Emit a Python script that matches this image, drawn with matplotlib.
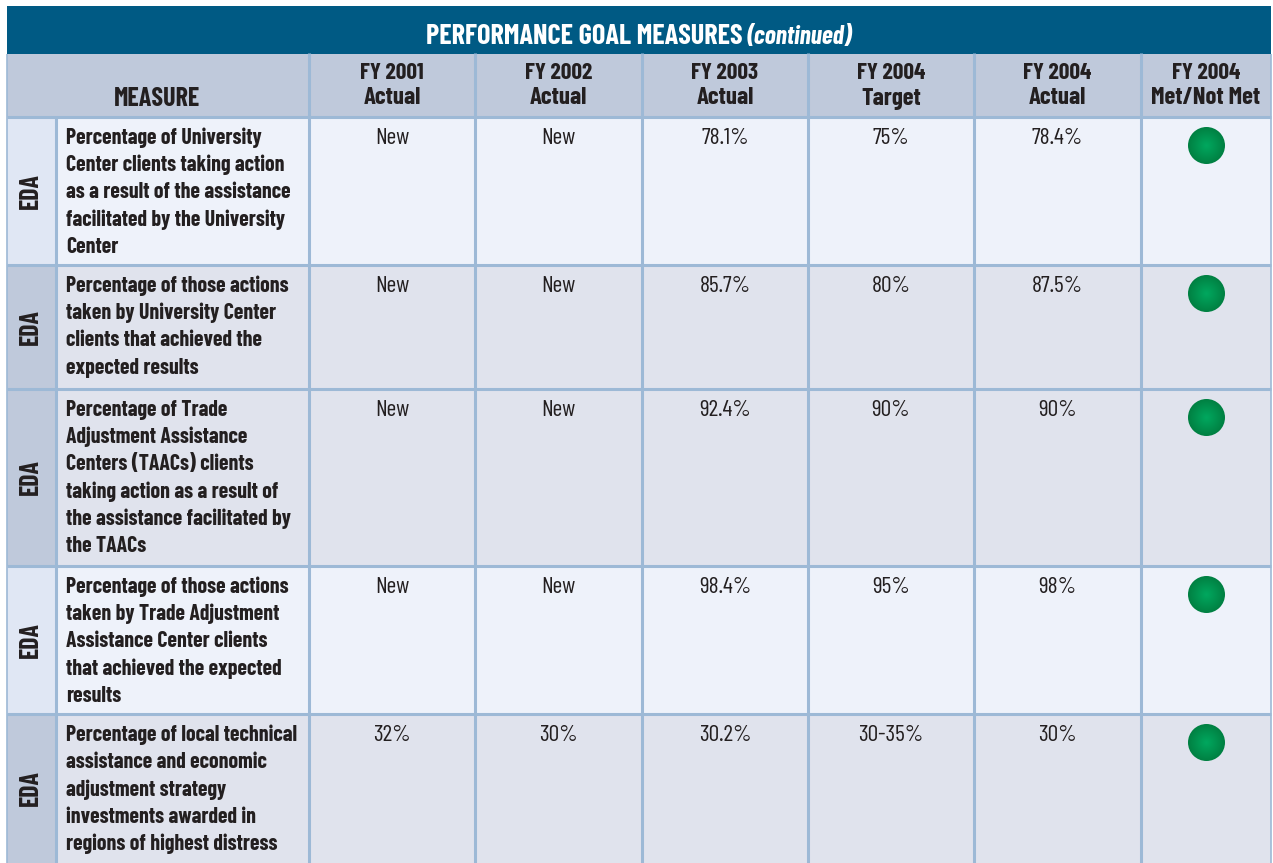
import matplotlib
matplotlib.use('Agg')
import matplotlib.pyplot as plt
import matplotlib.patches as mpatches
import numpy as np

# table content
titulo = 'PERFORMANCE GOAL MEASURES'
titulo_cont = '(continued)'
colunas = ['FY 2001\nActual', 'FY 2002\nActual', 'FY 2003\nActual',
           'FY 2004\nTarget', 'FY 2004\nActual', 'FY 2004\nMet/Not Met']
agencia = ['EDA', 'EDA', 'EDA', 'EDA', 'EDA']
medidas = [
    ['Percentage of University', 'Center clients taking action', 'as a result of the assistance',
     'facilitated by the University', 'Center'],
    ['Percentage of those actions', 'taken by University Center', 'clients that achieved the',
     'expected results'],
    ['Percentage of Trade', 'Adjustment Assistance', 'Centers (TAACs) clients',
     'taking action as a result of', 'the assistance facilitated by', 'the TAACs'],
    ['Percentage of those actions', 'taken by Trade Adjustment', 'Assistance Center clients',
     'that achieved the expected', 'results'],
    ['Percentage of local technical', 'assistance and economic', 'adjustment strategy',
     'investments awarded in', 'regions of highest distress'],
]
fy2001 = ['New', 'New', 'New', 'New', '32%']
fy2002 = ['New', 'New', 'New', 'New', '30%']
fy2003 = ['78.1%', '85.7%', '92.4%', '98.4%', '30.2%']
alvo2004 = ['75%', '80%', '90%', '95%', '30-35%']
real2004 = ['78.4%', '87.5%', '90%', '98%', '30%']

# layout in pixels
X_COL = [7, 56, 309, 475, 642, 808, 974, 1141, 1271]
Y_LIN = [117, 265, 389, 566, 714, 863]
TOPO, Y_BANDA = 6, 54
ESPACO = 27.2

AZUL = '#005A84'
CABECALHO = '#BFC9DB'
LINHA = '#9DB9D6'
TEXTO = '#231F20'
NARROW = ['Barlow Condensed', 'PT Sans Narrow', 'Liberation Sans', 'DejaVu Sans']

fig = plt.figure(figsize=(12.73, 8.63), dpi=100)
ax = fig.add_axes([0, 0, 1, 1])
ax.set_xlim(0, 1273)
ax.set_ylim(863, 0)
ax.axis('off')


def caixa(x0, y0, x1, y1, cor):
    ax.add_patch(mpatches.Rectangle((x0, y0), x1 - x0, y1 - y0, fc=cor, ec='none', zorder=1))


def texto(x, y, s, cor=TEXTO, peso=700, tam=16.0, ha='center', va='center_baseline', **kw):
    ax.text(x, y, s, color=cor, family=NARROW, weight=peso, fontsize=tam, ha=ha, va=va,
            zorder=3, **kw)


# title band and header
caixa(X_COL[0], TOPO, X_COL[-1], Y_BANDA, AZUL)
caixa(X_COL[0], Y_BANDA, X_COL[-1], Y_LIN[0], CABECALHO)
texto(743, 34, titulo, cor='white', tam=20.4, ha='right')
texto(747, 34, titulo_cont, cor='white', tam=18.5, ha='left', style='italic')
texto(157, 96, 'MEASURE', tam=18.8)
for i, nome in enumerate(colunas):
    xc = (X_COL[i + 2] + X_COL[i + 3]) / 2
    topo, baixo = nome.split('\n')
    texto(xc, 71, topo, tam=16.8)
    texto(xc, 96, baixo, tam=17.8)

# green dot gradient
yy, xx = np.mgrid[-1:1:80j, -1:1:80j]
rr = np.clip(np.sqrt(xx**2 + yy**2), 0, 1)[..., None]
centro = np.array([0, 168, 95]) / 255
borda = np.array([0, 128, 66]) / 255
gradiente = centro * (1 - rr) + borda * rr

# rows
for i in range(len(medidas)):
    y0, y1 = Y_LIN[i], Y_LIN[i + 1]
    claro = i in (0, 3)
    caixa(X_COL[0], y0, X_COL[1], y1, '#E0E7F4' if claro else CABECALHO)
    caixa(X_COL[1], y0, X_COL[-1], y1, '#EEF2FA' if claro else '#E0E3ED')
    texto(31, (y0 + y1) / 2, agencia[i], tam=18.5, rotation=90, va='center')
    for k, linha in enumerate(medidas[i]):
        texto(66, y0 + 19 + k * ESPACO, linha, tam=15.7, ha='left')
    for j, serie in enumerate([fy2001, fy2002, fy2003, alvo2004, real2004]):
        xc = (X_COL[j + 2] + X_COL[j + 3]) / 2
        texto(xc, y0 + 19, serie[i], peso=400, tam=17.0)
    cx, cy, r = 1206.5, y0 + 28.5, 18.5
    im = ax.imshow(gradiente, extent=(cx - r, cx + r, cy + r, cy - r), zorder=3, aspect='auto')
    im.set_clip_path(mpatches.Circle((cx, cy), r, transform=ax.transData))
ax.set_xlim(0, 1273)
ax.set_ylim(863, 0)

# grid lines
for x in X_COL[2:-1]:
    ax.plot([x, x], [Y_BANDA - 1, 863], color=LINHA, lw=2.2, zorder=2, solid_capstyle='butt')
ax.plot([X_COL[1]] * 2, [Y_LIN[0], 863], color=LINHA, lw=2.2, zorder=2, solid_capstyle='butt')
for y in Y_LIN[:-1]:
    ax.plot([X_COL[0], X_COL[-1]], [y, y], color=LINHA, lw=2.2, zorder=2, solid_capstyle='butt')
for x in (X_COL[0], X_COL[-1]):
    ax.plot([x, x], [Y_BANDA, 863], color=LINHA, lw=1.2, zorder=2, solid_capstyle='butt')

fig.savefig('out.png', dpi=100)
plt.close(fig)
